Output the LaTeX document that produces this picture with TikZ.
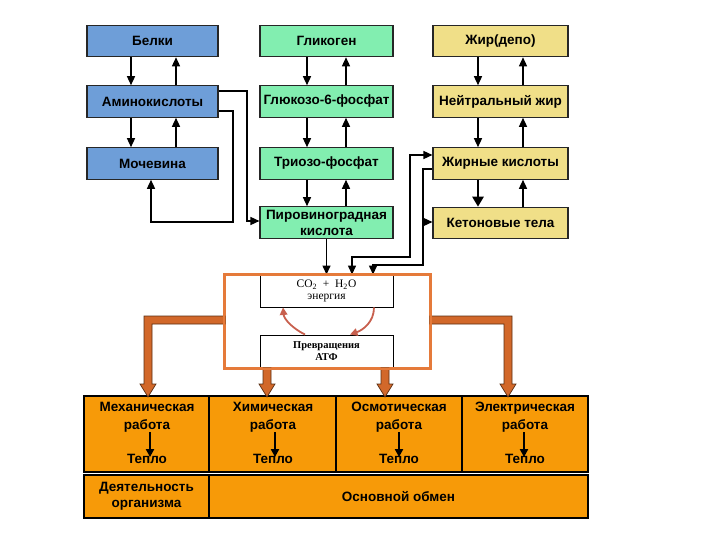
\documentclass[tikz,border=0pt]{standalone}
\usepackage{fontspec}
\setmainfont{Liberation Sans}
\newfontfamily\srf{Liberation Serif}
\usetikzlibrary{arrows.meta}
\definecolor{cBlue}{HTML}{6E9ED8}
\definecolor{cGreen}{HTML}{82EEB0}
\definecolor{cYel}{HTML}{F0DF88}
\definecolor{cOr}{HTML}{F79A08}
\definecolor{cArr}{HTML}{D2682A}
\definecolor{cArrD}{HTML}{5A2E12}
\definecolor{cFrame}{HTML}{E57A3A}
\definecolor{cCyc}{HTML}{C8604E}
\begin{document}
\begin{tikzpicture}[x=1pt,y=-1pt,
  lbl/.style={font=\bfseries\fontsize{13.5}{16}\selectfont, align=center, inner sep=0pt},
  bx/.style={draw=black!85, line width=1.1pt, minimum height=31.5pt, lbl},
  bbox/.style={bx, fill=cBlue, minimum width=131pt},
  gbox/.style={bx, fill=cGreen, minimum width=133pt},
  ybox/.style={bx, fill=cYel, minimum width=135pt},
  ar/.style={line width=1.4pt, -{Triangle[width=8pt,length=9pt]}},
  dar/.style={line width=1.4pt, {Triangle[width=8pt,length=9pt]}-{Triangle[width=8pt,length=9pt]}},
  tar/.style={line width=2pt, -{Triangle[width=8pt,length=8pt]}},
  cyc/.style={draw=cCyc, line width=1.8pt, -{Triangle[width=7.5pt,length=7.5pt]}},
  big/.style={fill=cArr, draw=cArrD, line width=0.7pt, line join=miter},
  wbox/.style={draw=black, line width=0.9pt, fill=white, minimum width=133pt, inner sep=0pt, align=center},
  cell/.style={draw=black, line width=1.5pt, fill=cOr, minimum height=76pt, inner sep=0pt, lbl},
  cell2/.style={cell, minimum height=43pt, font=\bfseries\fontsize{13.5}{16}\selectfont},
  txt/.style={lbl, font=\bfseries\fontsize{13.5}{18}\selectfont}
]
\useasboundingbox (0,0) rectangle (720,540);

% top boxes
\node[bbox] (be) at (152.5,41) {Белки};
\node[bbox] (am) at (152.5,101.5) {Аминокислоты};
\node[bbox] (mo) at (152.5,163.5) {Мочевина};
\node[gbox] (gl) at (326.5,41) {Гликоген};
\node[gbox] (g6) at (326.5,101.5) {Глюкозо-6-фосфат};
\node[gbox] (tf) at (326.5,163.5) {Триозо-фосфат};
\node[gbox] (pv) at (326.5,222.5) {Пировиноградная\\кислота};
\node[ybox] (zd) at (500.5,41) {Жир(депо)};
\node[ybox] (nz) at (500.5,101.5) {Нейтральный жир};
\node[ybox] (zk) at (500.5,163.5) {Жирные кислоты};
\node[ybox] (kt) at (500.5,223) {Кетоновые тела};

% vertical arrows
\foreach \a/\b in {be/am, am/mo} {
  \draw[ar] ([xshift=-21.5pt]\a.south) -- ([xshift=-21.5pt]\b.north);
  \draw[ar] ([xshift=23.5pt]\b.north) -- ([xshift=23.5pt]\a.south);
}
\foreach \a/\b in {gl/g6, g6/tf, tf/pv} {
  \draw[ar] ([xshift=-19.5pt]\a.south) -- ([xshift=-19.5pt]\b.north);
  \draw[ar] ([xshift=19.5pt]\b.north) -- ([xshift=19.5pt]\a.south);
}
\foreach \a/\b in {zd/nz, nz/zk} {
  \draw[ar] ([xshift=-22.5pt]\a.south) -- ([xshift=-22.5pt]\b.north);
  \draw[ar] ([xshift=22.5pt]\b.north) -- ([xshift=22.5pt]\a.south);
}
\draw[line width=2.8pt, -{Triangle[width=11pt,length=10pt]}] ([xshift=-22.5pt]zk.south) -- ([xshift=-22.5pt]kt.north);
\draw[ar] ([xshift=22.5pt]kt.north) -- ([xshift=22.5pt]zk.south);

% centre: cycle box
\node[wbox, minimum height=32pt, font=\srf\fontsize{11.5}{12.5}\selectfont] (co2) at (326.5,291)
  {CO\textsubscript{2}\enspace+\enspace H\textsubscript{2}O\\энергия};
\node[wbox, minimum height=33pt, font=\srf\bfseries\fontsize{10.5}{12}\selectfont] (atp) at (326.5,351.5)
  {Превращения\\АТФ};
\node[draw=cFrame, line width=2pt, minimum width=205pt, minimum height=93pt, inner sep=0pt] (frame) at (327.5,321.5) {};

\draw[cyc] (atp.north -| 305,0) .. controls (292,328) and (284,319) .. (co2.south -| 283,0);
\draw[cyc] (co2.south -| 374,0) .. controls (374,322) and (363,330) .. (atp.north -| 350,0);

% connectors
\draw[ar] (am.east |- 0,91) -- (247,91) -- (247,221) -- (pv.west |- 0,221);
\draw[ar] (am.east |- 0,111) -- (233,111) -- (233,222) -| (mo.south -| 151,0);
\draw[ar] (pv.south) -- (pv.south |- co2.north);
\draw[dar] (zk.west |- 0,155) -- (410,155) -- (410,257) -- (352,257) -- (co2.north -| 352,0);
\draw[ar] (zk.west |- 0,169) -- (423,169) -- (423,265) -- (373,265) -- (co2.north -| 373,0);
\draw[ar] (423,222) -- (kt.west |- 0,222);

% bottom cells
\node[cell, minimum width=125pt] (c1) at (146.5,434) {};
\node[cell, minimum width=127pt] (c2) at (272.5,434) {};
\node[cell, minimum width=126pt] (c3) at (399,434) {};
\node[cell, minimum width=126pt] (c4) at (525,434) {};
\node[cell2, minimum width=125pt, align=center] (d1) at (146.5,496.5) {Деятельность\\организма};
\node[cell2, minimum width=379pt] (d2) at (398.5,496.5) {Основной обмен};

\foreach \n/\x/\t in {1/147/Механическая, 2/273/Химическая, 3/399/Осмотическая, 4/525/Электрическая} {
  \node[txt] (w\n) at (\x,417) {\t\\работа};
  \node[txt] (h\n) at (\x,459) {Тепло};
}
\draw[tar] (w1.south -| 150,0) -- ([yshift=-3pt]h1.north -| 150,0);
\draw[tar] (w2.south -| 275,0) -- ([yshift=-3pt]h2.north -| 275,0);
\draw[tar] (w3.south -| 399,0) -- ([yshift=-3pt]h3.north -| 399,0);
\draw[tar] (w4.south -| 524,0) -- ([yshift=-3pt]h4.north -| 524,0);

% thick orange arrows
\draw[big] (225,316) -- (144,316) -- (144,384) -- (140,384) -- (148,397) -- (156,384) -- (152,384) -- (152,324) -- (225,324) -- cycle;
\draw[big] (430,316) -- (512,316) -- (512,384) -- (516,384) -- (508,397) -- (500,384) -- (504,384) -- (504,324) -- (430,324) -- cycle;
\draw[big] (263,368) -- (263,384) -- (259,384) -- (267,397) -- (275,384) -- (271,384) -- (271,368) -- cycle;
\draw[big] (381,368) -- (381,384) -- (377,384) -- (385,397) -- (393,384) -- (389,384) -- (389,368) -- cycle;
\draw[draw=cFrame, line width=2pt] (frame.north west) rectangle (frame.south east);
\end{tikzpicture}
\end{document}
